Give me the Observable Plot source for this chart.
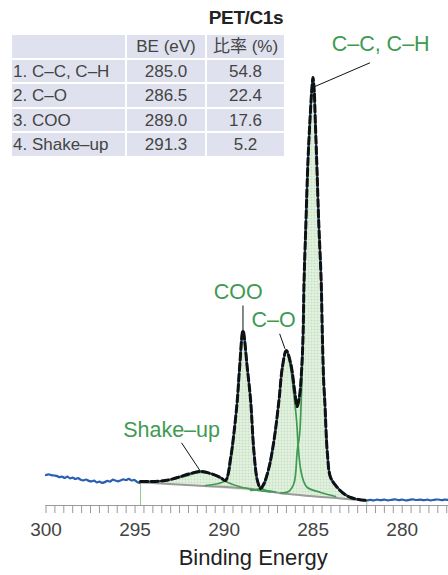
<!DOCTYPE html>
<html><head><meta charset="utf-8">
<script src="https://cdn.jsdelivr.net/npm/d3@7"></script>
<script src="https://cdn.jsdelivr.net/npm/@observablehq/plot@0.6"></script>
<style>
body{margin:0;background:#fff;}
#wrap{position:relative;width:448px;height:575px;font-family:"Liberation Sans",Arial,"Noto Sans CJK JP",sans-serif;}
#wrap svg{position:absolute;left:0;top:0;}
#title{position:absolute;left:194px;width:104px;top:7px;text-align:center;font-weight:bold;font-size:19px;color:#222;letter-spacing:-0.4px;}
#tbl{position:absolute;left:12px;top:35px;display:grid;grid-template-columns:113px 78px 77px;grid-auto-rows:22.5px;gap:2px;}
.cell{background:#dfe2ee;color:#444;font-size:17px;line-height:23px;text-align:center;white-space:nowrap;overflow:hidden;}
.cell.first{text-align:left;padding-left:1px;}
</style></head>
<body><div id="wrap"></div>
<script>
// ---- table data ----
const tableHeader = ["", "BE (eV)", "比率 (%)"];
const componentNames = ["1. C–C, C–H", "2. C–O", "3. COO", "4. Shake–up"];
const bindingEnergies = ["285.0", "286.5", "289.0", "291.3"];
const ratios = ["54.8", "22.4", "17.6", "5.2"];
const chartTitle = "PET/C1s";

// ---- axis ----
const tickLabels = [300, 295, 290, 285, 280];
const xDomain = [300, 277.4];

// ---- spectrum data [binding energy (eV), intensity (a.u.)] ----
const measuredLeft = [
  [300.0,30.5],[299.85,31.2],[299.7,30.4],[299.55,30.0],[299.4,29.6],[299.25,28.4],[299.1,28.9],
  [298.95,27.6],[298.8,28.8],[298.65,27.2],[298.5,27.9],[298.35,26.5],[298.2,27.3],[298.05,25.8],
  [297.9,25.2],[297.75,26.0],[297.6,24.6],[297.45,24.1],[297.3,24.9],[297.15,23.2],[297.0,23.8],
  [296.85,22.6],[296.7,23.4],[296.55,24.6],[296.4,23.9],[296.25,25.8],[296.1,25.0],[295.95,24.2],
  [295.8,25.3],[295.65,26.1],[295.5,25.4],[295.35,26.6],[295.2,25.0],[295.05,25.7],[294.9,23.8],[294.75,22.6]
];
const measuredRight = [
  [281.8,5.6],[281.6,5.1],[281.4,5.8],[281.2,5.3],[281.0,5.9],[280.8,5.2],[280.6,5.7],[280.4,6.2],
  [280.2,5.4],[280.0,5.8],[279.8,5.1],[279.6,5.6],[279.4,6.1],[279.2,5.5],[279.0,5.9],[278.8,5.3],
  [278.6,5.8],[278.4,5.2],[278.2,5.7],[278.0,6.0],[277.8,5.4],[277.6,5.8],[277.4,5.5]
];
const envelope = [
  [294.69,24],[294.13,24],[293.57,24.5],[293.01,26],[292.44,29],[291.88,32],[291.32,34],[290.76,32],
  [290.20,28],[289.92,25],[289.63,48],[289.45,72],[289.26,105],[289.13,138],[288.94,175],[288.70,138],
  [288.51,105],[288.33,55],[288.13,25],[287.95,17],[287.76,22],[287.48,38],[287.20,65],[286.92,105],
  [286.73,138],[286.51,155],[286.26,142],[286.02,112],[285.90,99],[285.76,110],[285.65,135],[285.57,168],
  [285.51,225],[285.42,275],[285.29,345],[285.18,385],[285.08,415],[285.01,428],[284.94,415],[284.88,385],
  [284.80,345],[284.69,285],[284.55,225],[284.48,168],[284.41,125],[284.34,102],[284.20,52],[284.02,28],
  [283.64,18],[283.29,12],[282.89,8],[282.44,6],[281.99,5]
];
const background = [[294.69,23.3],[291.60,20],[288.51,16.7],[286.83,12.3],[283.45,7],[281.99,5]];
const shakeUp = [[294.69,23],[293.57,24],[292.44,28],[291.32,33],[290.48,30],[289.92,24],[289.07,18.5],[288.23,15.5],[287.39,13.5]];
const coo = [[291.04,20],[290.31,22],[289.92,25],[289.70,35],[289.47,68],[289.26,103],[289.13,137],[288.94,173],
  [288.70,137],[288.51,103],[288.33,53],[288.13,24],[287.83,16.5],[287.10,13.5]];
const cO = [[288.51,15],[288.06,16.5],[287.76,20],[287.48,37],[287.20,64],[286.92,104],[286.73,137],[286.51,154],
  [286.26,137],[286.10,113],[285.94,87],[285.81,53],[285.70,36],[285.53,24],[285.33,18],[284.58,13],[283.74,9]];
const cC = [[286.83,12.5],[286.38,14],[286.08,22],[285.89,55],[285.76,71],[285.65,115],[285.57,160],[285.51,222],
  [285.42,273],[285.29,344],[285.18,384],[285.08,414],[285.01,427],[284.94,415],[284.88,385],[284.80,345],
  [284.69,285],[284.55,225],[284.48,168],[284.41,125],[284.34,102],[284.20,52],[284.02,28],[283.64,18],
  [283.29,12],[282.89,8],[282.44,6],[281.99,5]];
const regionEdges = [[294.69,23.3],[281.99,5]];

// ---- annotations ----
const labelNames = ["C–C, C–H", "C–O", "COO", "Shake–up"];
const labelPos = [[281.21,461],[287.22,185],[289.21,213],[292.95,75]];
const leaderFrom = [[281.81,442.7],[286.88,171.7],[288.94,200],[292.39,62.7]];
const leaderTo = [[284.99,418.3],[286.58,156.7],[288.94,175],[291.32,34]];

const measured = measuredLeft.concat(envelope, measuredRight);
const labels = labelNames.map((t, i) => ({t, x: labelPos[i][0], y: labelPos[i][1]}));
const leaders = leaderFrom.map((f, i) => ({x1: f[0], y1: f[1], x2: leaderTo[i][0], y2: leaderTo[i][1]}));

const X = d => d[0], Y = d => d[1];
const green = "#3f9a52";
const minorTicks = d3.range(277.5, 300.001, 0.5);

const plot = Plot.plot({
  width: 448, height: 575,
  marginLeft: 45.5, marginRight: 0, marginTop: 0, marginBottom: 70,
  x: {domain: xDomain, label: null},
  y: {domain: [0, 505], axis: null},
  style: {fontFamily: '"Liberation Sans", Arial, sans-serif', background: "white"},
  marks: [
    Plot.line(envelope, {x: X, y: Y, fill: "url(#chk)", stroke: "none", curve: "catmull-rom"}),
    Plot.line(background, {x: X, y: Y, stroke: "#9b9b9b", strokeWidth: 2, curve: "catmull-rom"}),
    Plot.ruleX(regionEdges, {x: X, y1: 0, y2: Y, stroke: "#93c793", strokeWidth: 1}),
    ...[shakeUp, coo, cO, cC].map(c => Plot.line(c, {x: X, y: Y, stroke: green, strokeWidth: 1.7, curve: "catmull-rom"})),
    Plot.line(measured, {x: X, y: Y, stroke: "#2b5fb4", strokeWidth: 2.2, curve: "catmull-rom"}),
    Plot.line(envelope, {x: X, y: Y, stroke: "#111", strokeWidth: 3, strokeDasharray: "7,3.5", curve: "catmull-rom"}),
    Plot.ruleY([0], {stroke: "#9a9a9a", strokeWidth: 1}),
    Plot.axisX({ticks: minorTicks, tickSize: 8, tickPadding: 9, fontSize: 19, stroke: "#9a9a9a", fill: "#444",
      tickFormat: d => tickLabels.includes(d) ? String(d) : ""}),
    Plot.link(leaders, {x1: "x1", y1: "y1", x2: "x2", y2: "y2", stroke: "#111", strokeWidth: 1}),
    Plot.text(labels, {x: "x", y: "y", text: "t", fill: green, fontSize: 21.5}),
    Plot.text(["Binding Energy"], {frameAnchor: "bottom", dy: 59, dx: 6, fontSize: 22, fill: "#222"})
  ]
});

const svg = d3.select(plot);
const defs = svg.insert("defs", ":first-child");
const pat = defs.append("pattern").attr("id", "chk").attr("width", 3).attr("height", 3).attr("patternUnits", "userSpaceOnUse");
pat.append("rect").attr("width", 3).attr("height", 3).attr("fill", "#c6e2c2");
pat.append("rect").attr("width", 3).attr("height", 1).attr("fill", "#eaf5e8");
pat.append("rect").attr("width", 1).attr("height", 3).attr("fill", "#eaf5e8");

const wrap = document.getElementById("wrap");
wrap.appendChild(plot);
const title = document.createElement("div");
title.id = "title"; title.textContent = chartTitle;
wrap.appendChild(title);
const tbl = document.createElement("div");
tbl.id = "tbl";
wrap.appendChild(tbl);
const rows = [tableHeader].concat(componentNames.map((n, i) => [n, bindingEnergies[i], ratios[i]]));
rows.forEach(r => r.forEach((v, j) => {
  const c = document.createElement("div");
  c.className = "cell" + (j === 0 ? " first" : "");
  c.textContent = v;
  tbl.appendChild(c);
}));
</script>
</body></html>
